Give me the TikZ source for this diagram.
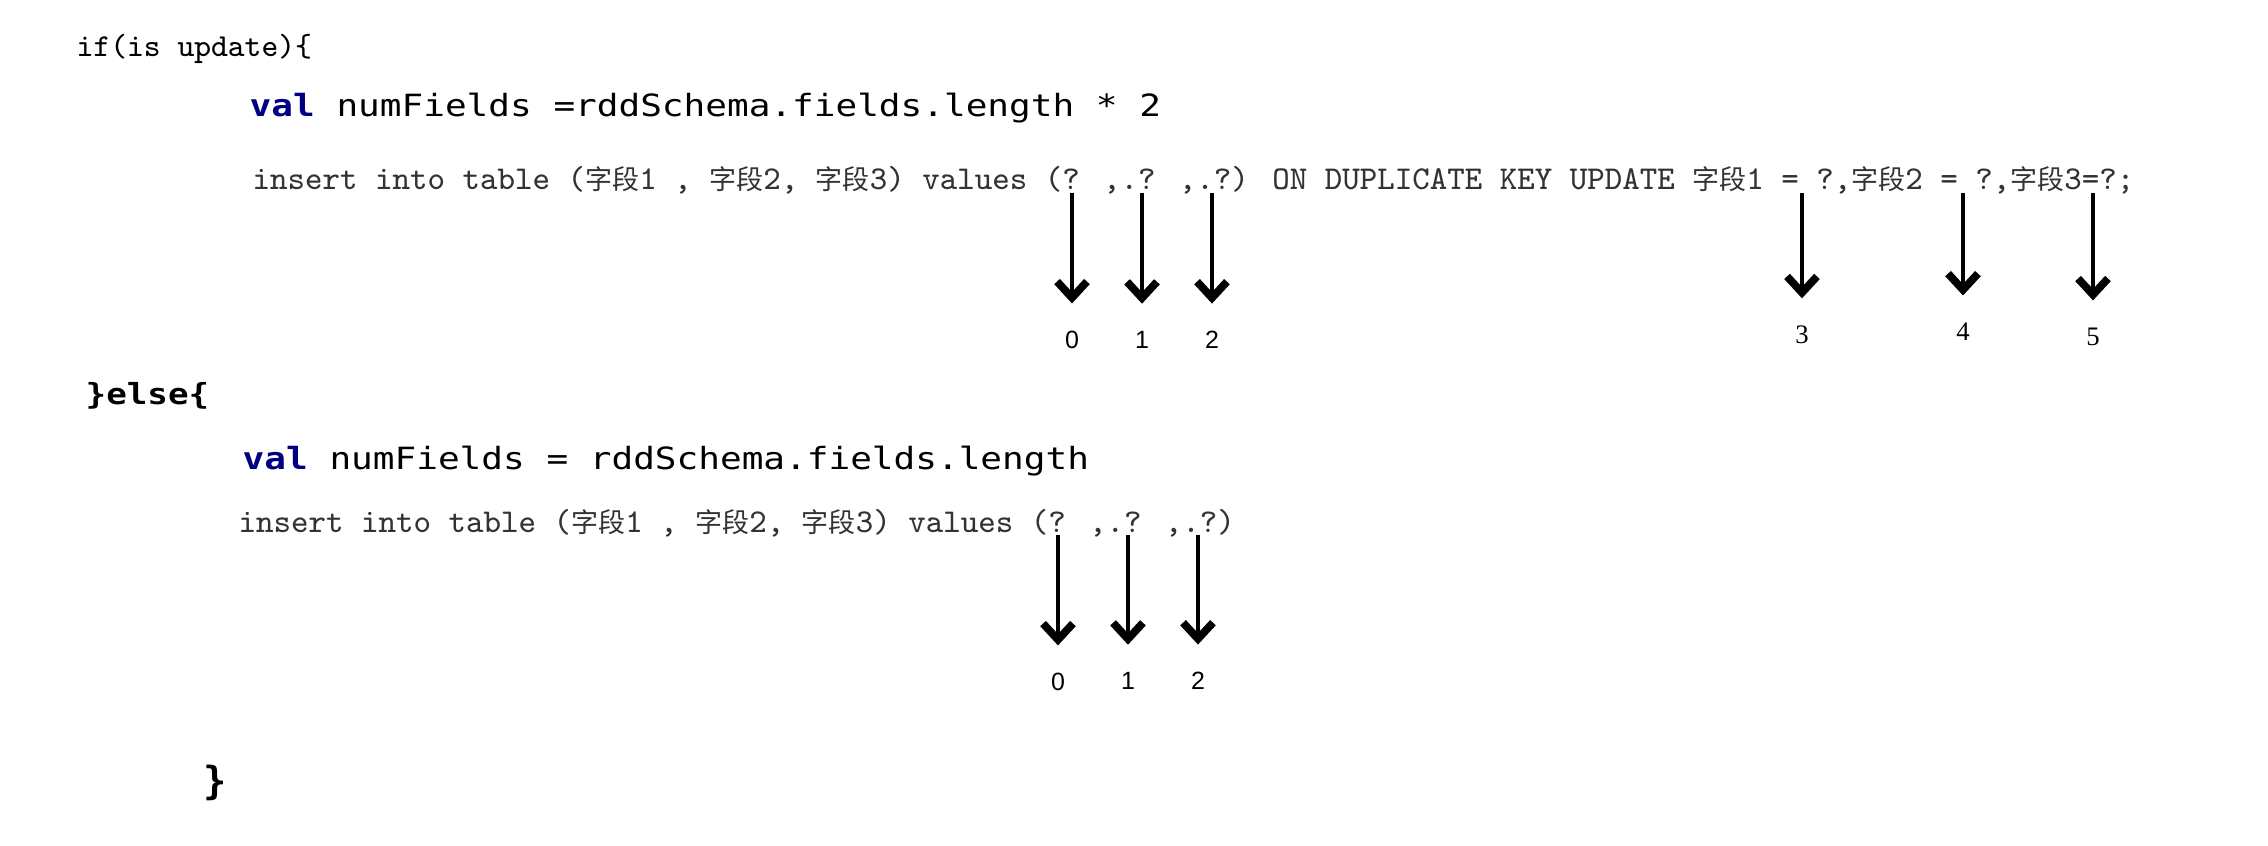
\documentclass[tikz,border=0pt]{standalone}
\usepackage{fontspec}
\usepackage{graphicx}
\usetikzlibrary{arrows.meta}
\newfontfamily\menlo{DejaVu Sans Mono}
\newfontfamily\cjk[Scale=0.81]{Noto Sans CJK SC}
\newfontfamily\numsans{Liberation Sans}
\newfontfamily\numserif{Liberation Serif}
\definecolor{kwblue}{RGB}{0,0,128}
\newcommand{\zd}{{\cjk 字段}}
\newcommand{\squash}[1]{\scalebox{1}[0.85]{#1}}
\newcommand{\sqlfont}{\ttfamily\fontsize{9.48}{11}\selectfont}
\newcommand{\idefont}{\menlo\fontsize{10.25}{12}\selectfont}

\begin{document}
\begin{tikzpicture}[x=0.01cm,y=-0.01cm,
    code/.style={anchor=base west},
    sql/.style={anchor=base west,text=black!80,font=\sqlfont},
    idx/.style={font=\numsans\fontsize{7.1}{8}\selectfont},
    idxs/.style={font=\numserif\fontsize{7.6}{9}\selectfont},
    arr/.style={line width=1.2pt,shorten >=0.27cm,
      -{Straight Barb[length=4.6pt,width=8.5pt,line width=2.2pt]}}]
    \tikzstyle{every node}+=[inner sep=0pt]
    \useasboundingbox (0,0) rectangle (2268,846);
    % if branch
    \node[code] (ifline) at (76,57) {\ttfamily\fontsize{9.1}{11}\selectfont if(is update)\{};
    \node[code] (valtwo) at (249,117) {\squash{\idefont{\bfseries\color{kwblue}val} numFields =rddSchema.fields.length * 2}};
    \node[sql] (upsert) at (252,190) {insert into table (\zd1 , \zd2, \zd3) values (? ,.? ,.?) ON DUPLICATE KEY UPDATE \zd1 = ?,\zd2 = ?,\zd3=?;};
    \coordinate (q0) at (1072,193);
    \coordinate (q1) at (1142,193);
    \coordinate (q2) at (1212,193);
    \coordinate (q3) at (1802,193);
    \coordinate (q4) at (1963,193);
    \coordinate (q5) at (2093,193);
    \node[idx] (n0) at (1072,340) {0};
    \node[idx] (n1) at (1142,340) {1};
    \node[idx] (n2) at (1212,340) {2};
    \node[idxs] (n3) at (1802,335) {3};
    \node[idxs] (n4) at (1963,332) {4};
    \node[idxs] (n5) at (2093,337) {5};
    \draw[arr] (q0) -- (q0 |- n0.north);
    \draw[arr] (q1) -- (q1 |- n1.north);
    \draw[arr] (q2) -- (q2 |- n2.north);
    \draw[arr] (q3) -- (q3 |- n3.north);
    \draw[arr] (q4) -- (q4 |- n4.north);
    \draw[arr] (q5) -- (q5 |- n5.north);
    % else branch
    \node[code] (elseline) at (85,405) {\squash{\menlo\bfseries\fontsize{9.73}{11}\selectfont\}else\{}};
    \node[code] (valone) at (242,470) {\squash{\idefont{\bfseries\color{kwblue}val} numFields = rddSchema.fields.length}};
    \node[sql] (insert) at (238,533) {insert into table (\zd1 , \zd2, \zd3) values (? ,.? ,.?)};
    \coordinate (p0) at (1058,535);
    \coordinate (p1) at (1128,535);
    \coordinate (p2) at (1198,535);
    \node[idx] (m0) at (1058,682) {0};
    \node[idx] (m1) at (1128,681) {1};
    \node[idx] (m2) at (1198,681) {2};
    \draw[arr] (p0) -- (p0 |- m0.north);
    \draw[arr] (p1) -- (p1 |- m1.north);
    \draw[arr] (p2) -- (p2 |- m2.north);
    \node (close) at (215,783) {\menlo\bfseries\fontsize{11}{12}\selectfont\}};
\end{tikzpicture}
\end{document}
